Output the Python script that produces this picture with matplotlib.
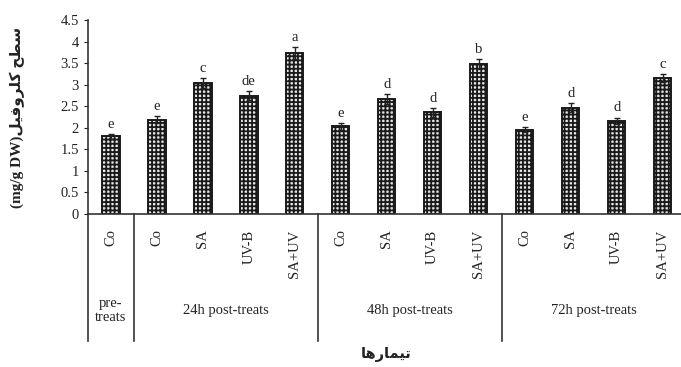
import numpy as np
import matplotlib.pyplot as plt

# data
treatments = ["Co", "Co", "SA", "UV-B", "SA+UV",
              "Co", "SA", "UV-B", "SA+UV",
              "Co", "SA", "UV-B", "SA+UV"]
values = [1.80, 2.19, 3.04, 2.75, 3.74,
          2.04, 2.67, 2.36, 3.48,
          1.96, 2.47, 2.16, 3.16]
errors = [0.05, 0.08, 0.12, 0.10, 0.14,
          0.08, 0.12, 0.10, 0.12,
          0.06, 0.10, 0.08, 0.10]
letters = ["e", "e", "c", "de", "a", "e", "d", "d", "b", "e", "d", "d", "c"]
groups = ["pre-\ntreats", "24h post-treats", "48h post-treats", "72h post-treats"]
group_spans = [(0, 0), (1, 4), (5, 8), (9, 12)]

# Persian labels written in presentation forms, visual order (left to right)
fa_ylabel = "\uFEB3\uFEC4\uFEA2 \uFB90\uFEE0\uFEAE\uFEED\uFED3\uFBFF\uFEDE"
fa_xlabel = "\uFE97\uFBFF\uFEE4\uFE8E\uFEAD\uFEEB\uFE8E"
ylabel = "(mg/g DW)" + fa_ylabel[::-1]
xlabel = fa_xlabel[::-1]

plt.rcParams["font.family"] = ["Liberation Serif", "DejaVu Sans"]
plt.rcParams["hatch.linewidth"] = 1.3

fig = plt.figure(figsize=(6.81, 3.67), dpi=100)
ax = fig.add_axes([0.129, 0.417, 0.871, 0.528])

x = np.arange(len(values))
ax.bar(x, values, width=0.38, color="#e8e8e8", edgecolor="#1a1a1a",
       hatch="++++", linewidth=1.4, zorder=2)
ax.errorbar(x, values, yerr=errors, fmt="none", ecolor="#222222",
            elinewidth=1, capsize=2.5, capthick=1, zorder=3)
for xi, v, e, l in zip(x, values, errors, letters):
    ax.text(xi, v + e + 0.07, l, ha="center", va="bottom", fontsize=10.5, color="#222222")

ax.set_xlim(-0.5, 12.4)
ax.set_ylim(0, 4.5)
ax.set_yticks(np.arange(0, 4.51, 0.5))
ax.set_yticklabels(["0", "0.5", "1", "1.5", "2", "2.5", "3", "3.5", "4", "4.5"])
ax.set_xticks([])
ax.tick_params(axis="y", direction="out", length=3, labelsize=10.5, colors="#222222")
ax.spines["top"].set_visible(False)
ax.spines["right"].set_visible(False)
ax.spines["left"].set_color("#333333")
ax.spines["bottom"].set_color("#333333")
ax.spines["left"].set_linewidth(1.2)
ax.spines["bottom"].set_linewidth(1.2)

# category labels, separators and group labels below the axis
trans = ax.get_xaxis_transform()
for xi, t in zip(x, treatments):
    ax.text(xi, -0.08, t, rotation=90, ha="center", va="top", fontsize=10.5,
            transform=trans, color="#222222")
for sep in [-0.5, 0.5, 4.5, 8.5]:
    ax.plot([sep, sep], [0, -0.655], transform=trans, color="#333333",
            lw=1.2, clip_on=False)
for g, (a, b) in zip(groups, group_spans):
    ax.text((a + b) / 2, -0.50, g, ha="center", va="center", fontsize=10.5,
            transform=trans, color="#222222", linespacing=1.1)

ax.text(-0.118, 0.5, ylabel, rotation=90, ha="center", va="center", fontsize=11,
        fontweight="bold", transform=ax.transAxes, color="#222222")
fig.text(0.567, 0.035, xlabel, ha="center", va="center", fontsize=10.5,
         fontweight="bold", color="#222222")

fig.savefig("out.png", dpi=100)
